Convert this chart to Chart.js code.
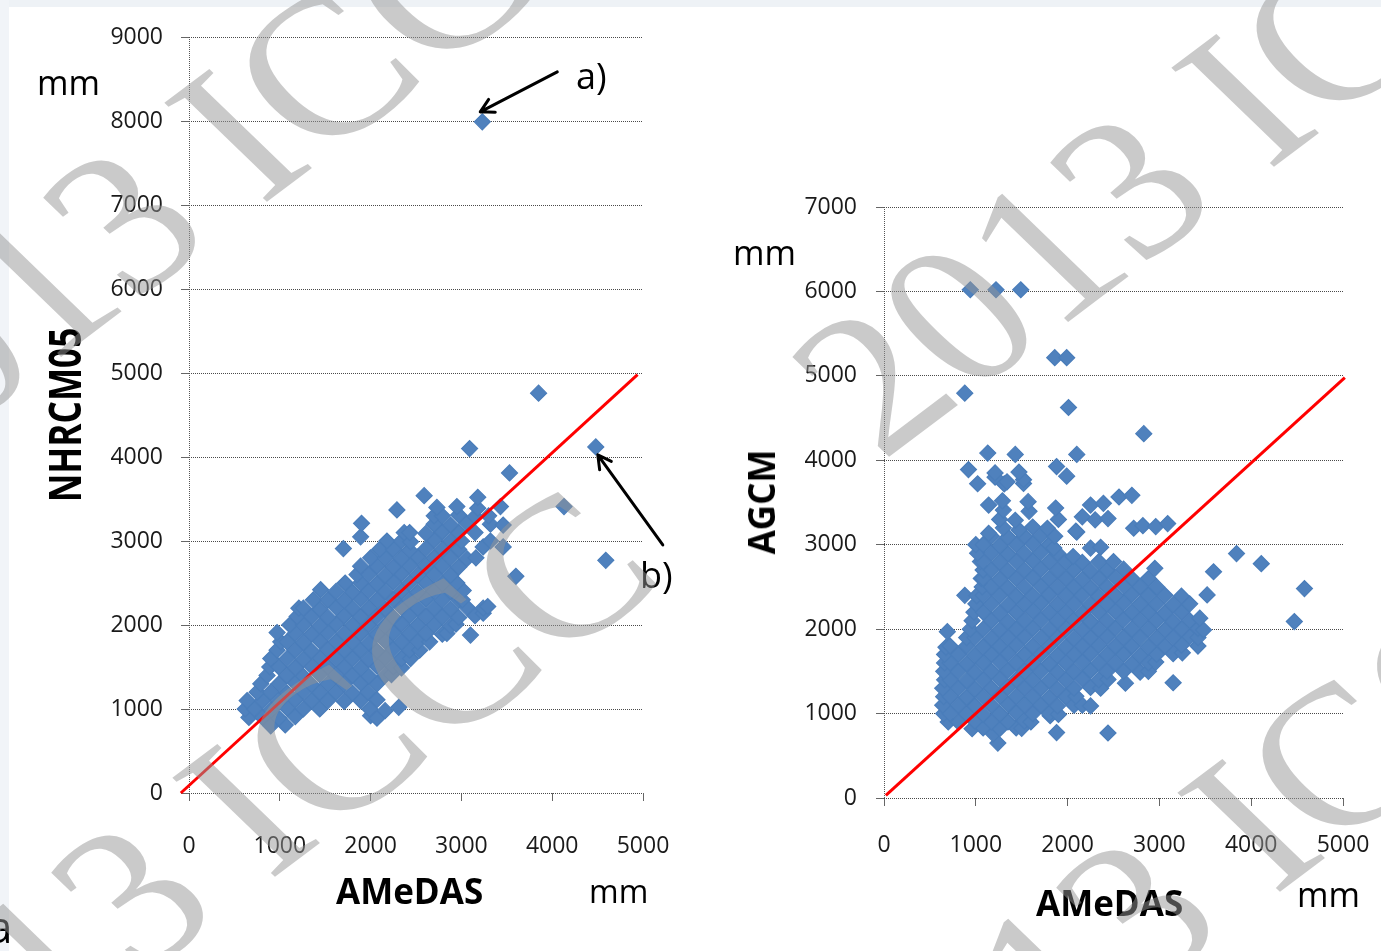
<!DOCTYPE html>
<html>
<head>
<meta charset="utf-8">
<script src="https://cdn.jsdelivr.net/npm/chart.js@4.4.0/dist/chart.umd.min.js"></script>
<style>
  html, body { margin: 0; padding: 0; background: #fff; }
  #page { position: relative; width: 1381px; height: 951px; overflow: hidden; background: #fff;
          font-family: 'Open Sans', sans-serif; color: #000; }
  canvas { position: absolute; top: 0; }
  .lbl { position: absolute; line-height: 1; white-space: nowrap; }
  .vlbl { position: absolute; line-height: 1; white-space: nowrap; font-weight: 700; }
  .wm { position: absolute; line-height: 1; white-space: nowrap; pointer-events: none;
        font-family: 'Liberation Serif', serif; font-size: 215px; color: rgba(150,150,150,0.5);
        transform-origin: 519.6px 108.9px; transform: rotate(-37deg) skewX(9deg); }
</style>
</head>
<body>
<div id="page">
  <div style="position:absolute;left:0;top:0;width:1381px;height:7px;background:#eef2f6"></div>
  <div style="position:absolute;left:0;top:0;width:9px;height:951px;background:#f1f4f8"></div>

  <canvas id="chartL" width="700" height="951" style="left:0"></canvas>
  <canvas id="chartR" width="681" height="951" style="left:700px"></canvas>

  <!-- left panel text -->
  <div class="lbl" style="left:37px;top:65px;font-size:34px">mm</div>
  <div class="lbl" style="left:576px;top:58px;font-size:36px">a)</div>
  <div class="lbl" style="left:640px;top:557px;font-size:36px">b)</div>
  <div class="lbl" style="left:336px;top:873px;font-size:35px;font-weight:700">AMeDAS</div>
  <div class="lbl" style="left:589px;top:875px;font-size:32px">mm</div>
  <div class="vlbl" style="left:64px;top:415px;font-size:44px;transform:translate(-50%,-50%) rotate(-90deg) scaleX(0.8)">NHRCM05</div>
  <div class="lbl" style="left:-12px;top:904px;font-size:44px">a</div>

  <!-- right panel text -->
  <div class="lbl" style="left:733px;top:235px;font-size:34px">mm</div>
  <div class="lbl" style="left:1036px;top:885px;font-size:35px;font-weight:700">AMeDAS</div>
  <div class="lbl" style="left:1297px;top:877px;font-size:34px">mm</div>
  <div class="vlbl" style="left:760px;top:502px;font-size:38px;transform:translate(-50%,-50%) rotate(-90deg) scaleX(0.92)">AGCM</div>

  <!-- watermark -->
  <div class="wm" style="left:725px;top:-9px">2013 ICCC</div>
  <div class="wm" style="left:-282px;top:26px">2013 ICCC</div>
  <div class="wm" style="left:-274px;top:701px">2013 ICCC</div>
  <div class="wm" style="left:731px;top:716px">2013 ICCC</div>
</div>

<script>
// Tick values
// ----------------------------------------------
const xTicks  = [0, 1000, 2000, 3000, 4000, 5000];
const yTicksL = [0, 1000, 2000, 3000, 4000, 5000, 6000, 7000, 8000, 9000];
const yTicksR = [0, 1000, 2000, 3000, 4000, 5000, 6000, 7000];

// Left panel: AMeDAS (x) vs NHRCM05 (y), mm
// ----------------------------------------------
const nhrCloud = [
    [900,800],[1060,810],
    [660,900],[810,900],[990,890],[1170,910],[2000,920],[2070,890],
    [620,1000],[720,1000],[900,990],[1080,1010],[1260,1000],[1440,1000],[1990,1000],[2160,980],[2310,1020],
    [640,1100],[810,1100],[990,1090],[1170,1110],[1350,1100],[1530,1100],[1710,1090],[1890,1100],[2070,1110],
    [750,1200],[900,1200],[1080,1190],[1260,1210],[1440,1200],[1620,1200],[1800,1190],[1970,1200],
    [790,1300],[990,1300],[1170,1310],[1350,1290],[1530,1300],[1710,1300],[1890,1310],[2070,1300],
    [860,1400],[1080,1400],[1260,1390],[1440,1410],[1620,1400],[1800,1400],[1980,1390],[2160,1400],[2230,1410],
    [890,1500],[990,1500],[1170,1490],[1350,1510],[1530,1500],[1710,1500],[1890,1490],[2070,1510],[2250,1500],[2340,1490],
    [900,1600],[1080,1600],[1260,1590],[1440,1610],[1620,1600],[1800,1600],[1980,1590],[2160,1610],[2340,1600],[2440,1600],
    [970,1700],[1170,1700],[1350,1690],[1530,1710],[1710,1700],[1890,1700],[2070,1690],[2250,1710],[2430,1700],[2540,1700],
    [1010,1800],[1080,1800],[1260,1790],[1440,1810],[1620,1800],[1800,1800],[1980,1790],[2160,1810],[2340,1800],[2520,1800],[2650,1800],
    [970,1910],[1170,1900],[1350,1890],[1530,1910],[1710,1900],[1890,1900],[2070,1890],[2250,1910],[2430,1900],[2610,1900],[2790,1890],[2840,1900],[3100,1880],
    [1110,2000],[1260,2000],[1440,1990],[1620,2010],[1800,2000],[1980,2000],[2160,1990],[2340,2010],[2520,2000],[2700,2000],[2880,1990],[2940,2010],
    [1190,2100],[1350,2100],[1530,2090],[1710,2110],[1890,2100],[2070,2100],[2250,2090],[2430,2110],[2610,2100],[2790,2100],[2970,2090],[3150,2110],[3240,2140],
    [1210,2200],[1260,2200],[1440,2190],[1620,2210],[1800,2200],[1980,2200],[2160,2190],[2340,2210],[2520,2200],[2700,2200],[2880,2190],[3060,2210],[3240,2200],[3290,2220],
    [1370,2300],[1530,2300],[1710,2290],[1890,2310],[2070,2300],[2250,2300],[2430,2290],[2610,2310],[2790,2300],[2970,2300],[3010,2300],
    [1450,2420],[1620,2400],[1800,2390],[1980,2410],[2160,2400],[2340,2400],[2520,2390],[2700,2410],[2880,2400],[3020,2410],
    [1720,2500],[1890,2500],[2070,2490],[2250,2510],[2430,2500],[2610,2500],[2790,2490],[2950,2500],
    [1850,2600],[1980,2600],[2160,2590],[2340,2610],[2520,2600],[2700,2600],[2880,2590],[3600,2580],
    [1890,2700],[2070,2700],[2250,2690],[2430,2710],[2610,2700],[2790,2700],[2970,2690],
    [2000,2800],[2160,2800],[2340,2790],[2520,2810],[2700,2800],[2880,2800],[3060,2790],[3160,2800],
    [1700,2910],[2100,2900],[2250,2900],[2430,2890],[2610,2910],[2790,2900],[2970,2900],[3240,2930],[3460,2930],
    [2180,3000],[2340,3000],[2440,2990],[2700,3010],[2880,3000],[3000,3000],[3320,3000],
    [1890,3050],[2370,3100],[2430,3100],[2610,3090],[2790,3110],[2970,3100],[3150,3100],
    [1900,3210],[2700,3200],[2880,3190],[3060,3210],[3320,3200],[3460,3190],
    [2700,3300],[2790,3300],[2970,3310],[3150,3290],[3300,3300],
    [2290,3370],[2730,3400],[2950,3410],[3180,3390],[3430,3410],[4130,3410],
    [2590,3540],[3180,3520],
    [3530,3810],[3090,4100],[3850,4760],[4590,2770]
];
// the two stations marked a) and b)
const nhrMarked = [[3230,7990],[4480,4120]];
const oneToOneL = [[-90,0],[4940,4980]];

// Right panel: AMeDAS (x) vs AGCM (y), mm
// ----------------------------------------------
const agcmCloud = [
    [1240,650],
    [1190,760],[1880,775],[2440,770],
    [960,820],[1080,830],[1260,820],[1440,830],[1500,825],
    [700,900],[810,900],[990,910],[1170,900],[1350,900],[1530,910],[1600,900],[1810,975],
    [650,1000],[720,1000],[900,1000],[1080,990],[1260,1000],[1440,1010],[1620,1000],[1800,1000],[1900,990],
    [640,1100],[810,1100],[990,1090],[1170,1100],[1350,1110],[1530,1100],[1710,1100],[1890,1090],[2070,1100],[2160,1100],[2250,1090],
    [650,1200],[720,1200],[900,1190],[1080,1200],[1260,1210],[1440,1200],[1620,1200],[1800,1190],[1980,1200],[2090,1205],
    [640,1300],[810,1300],[990,1290],[1170,1300],[1350,1310],[1530,1300],[1710,1300],[1890,1290],[2070,1300],[2250,1310],[2360,1300],[2630,1360],[3150,1365],
    [660,1400],[720,1400],[900,1390],[1080,1400],[1260,1410],[1440,1400],[1620,1400],[1800,1390],[1980,1400],[2160,1410],[2340,1400],[2440,1405],
    [650,1500],[810,1500],[990,1490],[1170,1500],[1350,1510],[1530,1500],[1710,1500],[1890,1490],[2070,1500],[2250,1510],[2430,1500],[2610,1500],[2790,1490],[2880,1500],
    [660,1600],[720,1600],[900,1590],[1080,1600],[1260,1610],[1440,1600],[1620,1600],[1800,1590],[1980,1600],[2160,1610],[2340,1600],[2520,1600],[2700,1590],[2880,1600],[2960,1610],
    [660,1700],[810,1700],[990,1690],[1170,1700],[1350,1710],[1530,1700],[1710,1700],[1890,1690],[2070,1700],[2250,1710],[2430,1700],[2610,1700],[2790,1690],[2970,1700],[3150,1710],[3250,1720],
    [675,1785],[720,1800],[900,1800],[1080,1790],[1260,1800],[1440,1810],[1620,1800],[1800,1800],[1980,1790],[2160,1800],[2340,1810],[2520,1800],[2700,1800],[2880,1790],[3060,1800],[3240,1810],[3420,1800],
    [900,1900],[990,1900],[1170,1890],[1350,1900],[1530,1910],[1710,1900],[1890,1900],[2070,1890],[2250,1900],[2430,1910],[2610,1900],[2790,1900],[2970,1890],[3150,1900],[3330,1910],[3420,1900],
    [690,1970],[940,2000],[1080,2000],[1260,1990],[1440,2000],[1620,2010],[1800,2000],[1980,2000],[2160,1990],[2340,2000],[2520,2010],[2700,2000],[2880,2000],[3060,1990],[3240,2000],[3420,2010],[3480,1990],
    [960,2100],[1170,2100],[1350,2090],[1530,2100],[1710,2110],[1890,2100],[2070,2100],[2250,2090],[2430,2100],[2610,2110],[2790,2100],[2970,2100],[3150,2090],[3330,2100],[3440,2130],[4470,2090],
    [980,2200],[1080,2200],[1260,2190],[1440,2200],[1620,2210],[1800,2200],[1980,2200],[2160,2190],[2340,2200],[2520,2210],[2700,2200],[2880,2200],[3060,2190],[3240,2200],[3330,2300],
    [1000,2300],[1170,2300],[1350,2290],[1530,2300],[1710,2310],[1890,2300],[2070,2300],[2250,2290],[2430,2300],[2610,2310],[2790,2300],[2970,2300],[3150,2290],
    [880,2400],[1010,2395],[1080,2400],[1260,2400],[1440,2390],[1620,2400],[1800,2410],[1980,2400],[2160,2400],[2340,2390],[2520,2400],[2700,2410],[2880,2400],[3060,2400],[3240,2390],[3520,2405],
    [1070,2500],[1170,2500],[1350,2490],[1530,2500],[1710,2510],[1890,2500],[2070,2500],[2250,2490],[2430,2500],[2610,2510],[2790,2500],[2970,2500],[4580,2480],
    [1060,2600],[1080,2600],[1260,2590],[1440,2600],[1620,2610],[1800,2600],[1980,2600],[2160,2590],[2340,2600],[2520,2610],[2700,2600],[2880,2600],
    [1080,2700],[1170,2700],[1350,2690],[1530,2700],[1710,2710],[1890,2700],[2070,2700],[2250,2690],[2430,2700],[2610,2710],[2950,2720],[3590,2680],[4110,2775],
    [1050,2800],[1080,2800],[1260,2790],[1440,2800],[1620,2810],[1800,2800],[1980,2800],[2160,2790],[2340,2800],[2500,2800],
    [1020,2900],[1170,2900],[1350,2890],[1530,2900],[1710,2910],[1890,2900],[2060,2860],[2250,2960],[3840,2895],
    [1000,3000],[1080,3000],[1260,2990],[1440,3000],[1620,3010],[1800,3000],[1850,2960],[2360,2970],
    [1170,3100],[1350,3090],[1530,3100],[1710,3110],[1860,3100],[2100,3150],
    [1140,3135],[1300,3200],[1470,3175],[1620,3210],[1780,3195],[2090,3160],[2720,3195],[2820,3225],[2960,3215],[3090,3250],
    [1260,3300],[1430,3290],[1900,3300],[2160,3330],[2300,3295],[2440,3310],
    [1140,3470],[1300,3410],[1580,3395],[1870,3435],[2250,3470],[2390,3490],
    [1290,3520],[1570,3510],[2560,3565],[2700,3585],
    [1020,3722],[1310,3720],[1520,3725],[1210,3800],[1340,3745],[1520,3770],[1990,3812],[920,3890],[1880,3926],[1210,3850],[1470,3860],
    [1130,4085],[1430,4070],[2100,4070],[2830,4315],[2010,4625],[880,4795],[1860,5215],[1990,5215],
    [940,6020],[1220,6020],[1490,6020]
];
const oneToOneR = [[20,30],[5020,4980]];

// Arrows for a) and b): pixel offsets from the marked point
const arrowNotes = [
    { point: 0, tip: [-2, -10], tail: [75, -50] },
    { point: 1, tip: [2, 8],    tail: [67, 98] }
];

const toXY = arr => arr.map(p => ({ x: p[0], y: p[1] }));

Chart.defaults.font.family = "'Open Sans', sans-serif";

const arrowPlugin = {
    id: 'arrowNotes',
    afterDatasetsDraw(chart) {
        const { ctx, scales } = chart;
        ctx.save();
        ctx.strokeStyle = '#000';
        ctx.lineWidth = 3;
        ctx.lineCap = 'round';
        arrowNotes.forEach(a => {
            const p  = nhrMarked[a.point];
            const px = scales.x.getPixelForValue(p[0]);
            const py = scales.y.getPixelForValue(p[1]);
            const tx = px + a.tip[0],  ty = py + a.tip[1];
            const sx = px + a.tail[0], sy = py + a.tail[1];
            const ang = Math.atan2(ty - sy, tx - sx);
            ctx.beginPath();
            ctx.moveTo(sx, sy);
            ctx.lineTo(tx, ty);
            [0.5, -0.5].forEach(d => {
                ctx.moveTo(tx, ty);
                ctx.lineTo(tx - 15 * Math.cos(ang + d), ty - 15 * Math.sin(ang + d));
            });
            ctx.stroke();
        });
        ctx.restore();
    }
};

function scatterPanel(id, cloud, line, yTicks, box, plugins) {
    const tickFont = { size: 23 };
    return new Chart(document.getElementById(id), {
        type: 'scatter',
        data: {
            datasets: [
                {
                    data: toXY(line),
                    showLine: true,
                    borderColor: '#ff0000',
                    borderWidth: 3,
                    pointRadius: 0,
                    clip: false
                },
                {
                    data: toXY(cloud),
                    pointStyle: 'rectRot',
                    pointRadius: 8,
                    backgroundColor: '#4f81bd',
                    borderColor: '#4a7dba',
                    borderWidth: 1.2
                }
            ]
        },
        options: {
            responsive: false,
            animation: false,
            devicePixelRatio: 1,
            events: [],
            layout: { padding: { left: 0, top: box.top, right: box.right, bottom: 0 } },
            plugins: { legend: { display: false }, tooltip: { enabled: false } },
            scales: {
                x: {
                    type: 'linear',
                    min: 0,
                    max: 5000,
                    afterBuildTicks: s => { s.ticks = xTicks.map(v => ({ value: v })); },
                    afterFit: s => { s.height = box.xh; s.paddingLeft = 0; s.paddingRight = 0; },
                    grid: {
                        color: c => (c.tick && c.tick.value === 0) ? '#555' : 'rgba(0,0,0,0)',
                        tickColor: '#666',
                        tickLength: 8
                    },
                    border: { display: false, dash: [1, 1] },
                    ticks: { font: tickFont, color: '#1a1a1a', padding: box.xpad, maxRotation: 0, autoSkip: false,
                             callback: v => String(v) }
                },
                y: {
                    type: 'linear',
                    min: 0,
                    max: yTicks[yTicks.length - 1],
                    afterBuildTicks: s => { s.ticks = yTicks.map(v => ({ value: v })); },
                    afterFit: s => { s.width = box.yw; s.paddingTop = 0; s.paddingBottom = 0; },
                    grid: { color: '#4a4a4a', tickColor: '#666', tickLength: 8 },
                    border: { display: false, dash: [1, 1] },
                    ticks: { font: tickFont, color: '#1a1a1a', padding: box.ypad, callback: v => String(v) }
                }
            }
        },
        plugins: plugins
    });
}

scatterPanel('chartL', nhrCloud.concat(nhrMarked), oneToOneL, yTicksL,
    { top: 37, right: 57, yw: 189, xh: 158, xpad: 32, ypad: 18 }, [arrowPlugin]);

scatterPanel('chartR', agcmCloud, oneToOneR, yTicksR,
    { top: 207, right: 38, yw: 184, xh: 153, xpad: 26, ypad: 19 }, []);
</script>
</body>
</html>
